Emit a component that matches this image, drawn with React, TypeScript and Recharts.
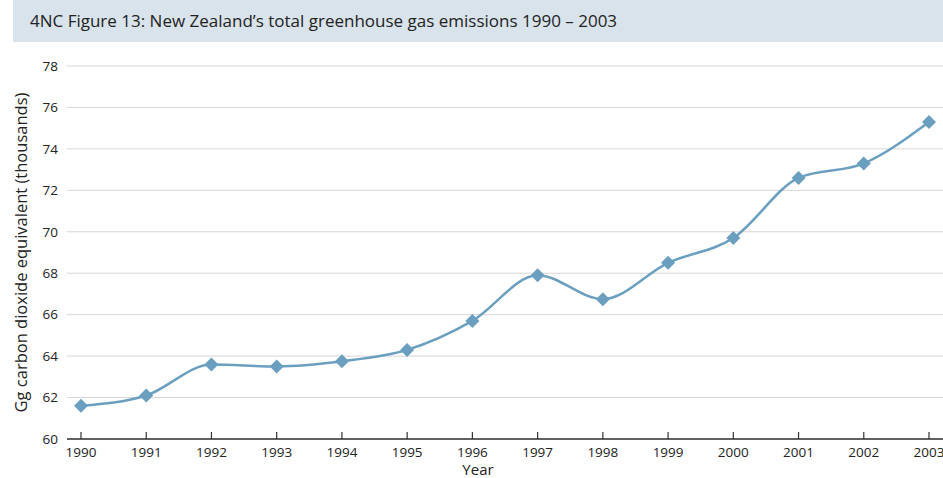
import React from 'react';
import { LineChart, Line, XAxis, YAxis, CartesianGrid } from 'recharts';

const years = ['1990', '1991', '1992', '1993', '1994', '1995', '1996', '1997', '1998', '1999', '2000', '2001', '2002', '2003'];
const emissions = [61.6, 62.1, 63.6, 63.5, 63.75, 64.3, 65.7, 67.9, 66.75, 68.5, 69.7, 72.6, 73.3, 75.3];
const yTicks = [60, 62, 64, 66, 68, 70, 72, 74, 76, 78];

const data = years.map((year, i) => ({ year, value: emissions[i] }));

const LINE = '#6a9fc0';
const FONT = '"Open Sans", sans-serif';

function Diamond(props: any) {
  const { cx, cy } = props;
  if (cx == null || cy == null) return null;
  const r = 7;
  return (
    <polygon
      points={`${cx},${cy - r} ${cx + r},${cy} ${cx},${cy + r} ${cx - r},${cy}`}
      fill={LINE}
    />
  );
}

function YearTick(props: any) {
  const { x, y, payload } = props;
  return (
    <g>
      <line x1={x} x2={x} y1={y} y2={y - 7} stroke="#333" strokeWidth={1.2} />
      <text x={x} y={y + 18} textAnchor="middle" fill="#222" fontSize={13.5} fontFamily={FONT}>
        {payload.value}
      </text>
    </g>
  );
}

export default function App() {
  return (
    <div style={{ position: 'absolute', left: 0, top: 0, width: 943, height: 478, background: '#fff', fontFamily: FONT }}>
      <div
        style={{
          position: 'absolute',
          left: 13,
          top: 0,
          width: 930,
          height: 42,
          background: '#d9e3eb',
          color: '#222',
          fontSize: 17,
          lineHeight: '42px',
          paddingLeft: 17,
          boxSizing: 'border-box',
        }}
      >
        4NC Figure 13: New Zealand’s total greenhouse gas emissions 1990 – 2003
      </div>
      <div style={{ position: 'absolute', left: 0, top: 0 }}>
        <LineChart width={943} height={478} data={data} margin={{ top: 66, right: 0, bottom: 0, left: 0 }}>
          <CartesianGrid vertical={false} stroke="#d6d6d6" strokeWidth={1} />
          <XAxis
            dataKey="year"
            interval={0}
            padding={{ left: 14, right: 14 }}
            axisLine={{ stroke: '#333', strokeWidth: 1.5 }}
            tickLine={false}
            tickSize={0}
            tickMargin={0}
            height={39}
            tick={<YearTick />}
            label={{ value: 'Year', position: 'insideBottom', offset: 3, dx: -27, fill: '#222', fontSize: 15, fontFamily: FONT }}
          />
          <YAxis
            domain={[60, 78]}
            ticks={yTicks}
            width={67}
            axisLine={false}
            tickLine={false}
            tickSize={0}
            tickMargin={9}
            tick={{ fill: '#222', fontSize: 13.5, fontFamily: FONT }}
            label={{
              value: 'Gg carbon dioxide equivalent (thousands)',
              angle: -90,
              position: 'insideLeft',
              offset: 0,
              dx: 21,
              style: { textAnchor: 'middle', fill: '#222', fontSize: 16.5, fontFamily: FONT },
            }}
          />
          <Line
            type="monotone"
            dataKey="value"
            stroke={LINE}
            strokeWidth={2.5}
            dot={<Diamond />}
            activeDot={false}
            isAnimationActive={false}
          />
        </LineChart>
      </div>
    </div>
  );
}
